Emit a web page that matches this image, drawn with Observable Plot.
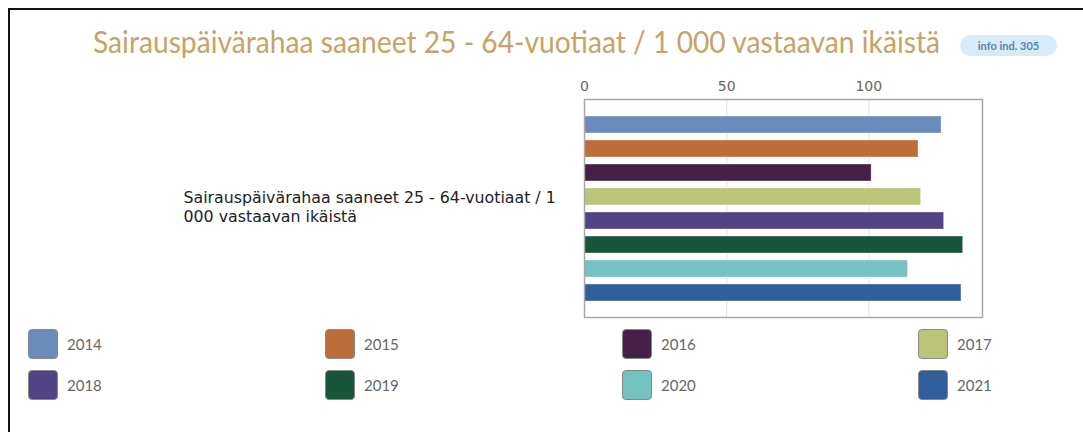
<!DOCTYPE html>
<html>
<head>
<meta charset="utf-8">
<script src="https://cdn.jsdelivr.net/npm/d3@7"></script>
<script src="https://cdn.jsdelivr.net/npm/@observablehq/plot@0.6"></script>
<style>
  html, body { margin: 0; padding: 0; background: #fff; }
  #page { position: relative; width: 1083px; height: 432px; overflow: hidden; }
  #borderTop { position: absolute; left: 8px; top: 8px; width: 1075px; height: 2px; background: #111; }
  #borderLeft { position: absolute; left: 8px; top: 8px; width: 2px; height: 424px; background: #111; }
  #title { position: absolute; left: 93px; top: 23px; font-family: Lato, sans-serif; font-size: 30px; color: #c8a266; white-space: nowrap; transform: scaleX(0.94); transform-origin: left center; }
  #badge { position: absolute; left: 960px; top: 35px; width: 97px; height: 21px; border-radius: 11px; background: #d8ebf8; color: #5585b2; font-family: Lato, sans-serif; font-weight: bold; font-size: 11px; line-height: 21px; text-align: center; }
  #chart { position: absolute; left: 0; top: 0; }
  .leg { position: absolute; display: flex; align-items: center; font-family: Lato, sans-serif; font-size: 15px; color: #666; }
  .sw { width: 28px; height: 28px; border-radius: 4px; border: 1px solid #888; margin-right: 9px; box-sizing: content-box; }
</style>
</head>
<body>
<div id="page">
  <div id="borderTop"></div>
  <div id="borderLeft"></div>
  <div id="chart"></div>
  <div id="title"></div>
  <div id="badge"></div>
  <div id="legend"></div>
</div>
<script>
const titleText = "Sairauspäivärahaa saaneet 25 - 64-vuotiaat / 1 000 vastaavan ikäistä";
const badgeText = "info ind. 305";
const categoryLabel = "Sairauspäivärahaa saaneet 25 - 64-vuotiaat / 1\n000 vastaavan ikäistä";
const years = ["2014", "2015", "2016", "2017", "2018", "2019", "2020", "2021"];
const values = [125.6, 117.5, 101.0, 118.4, 126.5, 133.2, 113.8, 132.6];
const colors = ["#6a8cbb", "#bd6e38", "#451f47", "#bcc47a", "#524384", "#18553a", "#74c3c1", "#305f9b"];
const xTicks = [0, 50, 100];

document.getElementById("title").textContent = titleText;
document.getElementById("badge").textContent = badgeText;

const data = years.map((y, i) => ({year: y, value: values[i]}));

const chart = Plot.plot({
  width: 1083,
  height: 325,
  marginTop: 99,
  marginBottom: 8,
  marginLeft: 584,
  marginRight: 101,
  style: {fontFamily: "DejaVu Sans, sans-serif", background: "transparent"},
  x: {domain: [0, 140], axis: null},
  y: {domain: years, axis: null, paddingInner: 0.3, paddingOuter: 0.69},
  color: {domain: years, range: colors},
  marks: [
    Plot.gridX(xTicks, {stroke: "#e2e2e2", strokeOpacity: 1, strokeWidth: 1}),
    Plot.axisX(xTicks, {anchor: "top", label: null, tickSize: 0, tickPadding: 9, fontSize: 14, fill: "#666", fontFamily: "DejaVu Sans, sans-serif"}),
    Plot.barX(data, {x: "value", y: "year", fill: "year", stroke: "#ffffff", strokeOpacity: 0.35, strokeWidth: 1}),
    Plot.frame({stroke: "#a8a8a8", strokeWidth: 1.5}),
    Plot.text([categoryLabel], {frameAnchor: "left", dx: -401, dy: -2, textAnchor: "start", lineAnchor: "middle", lineHeight: 1.2, fontSize: 15.8, fill: "#222"})
  ]
});
document.getElementById("chart").appendChild(chart);

const legend = document.getElementById("legend");
const colX = [28, 325, 622, 918];
years.forEach((y, i) => {
  const el = document.createElement("div");
  el.className = "leg";
  el.style.left = colX[i % 4] + "px";
  el.style.top = (329 + Math.floor(i / 4) * 41) + "px";
  const sw = document.createElement("div");
  sw.className = "sw";
  sw.style.background = colors[i];
  const lab = document.createElement("span");
  lab.textContent = y;
  el.appendChild(sw);
  el.appendChild(lab);
  legend.appendChild(el);
});
</script>
</body>
</html>
